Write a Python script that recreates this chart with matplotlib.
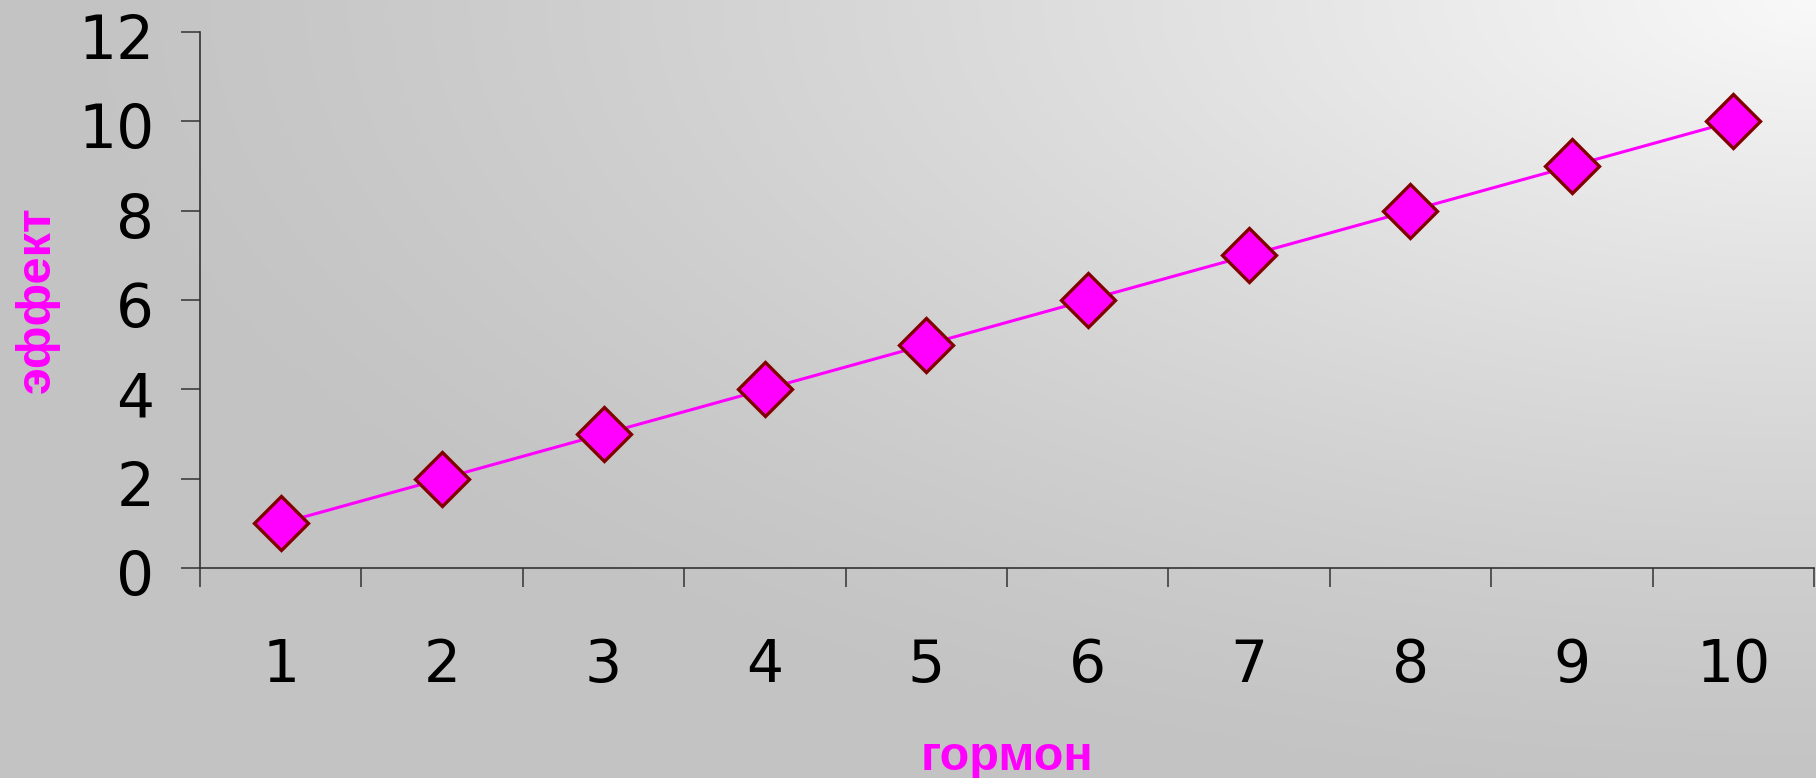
import numpy as np
import matplotlib
matplotlib.use("Agg")
import matplotlib.pyplot as plt
import matplotlib.transforms as mtransforms

# data
hormone = [1, 2, 3, 4, 5, 6, 7, 8, 9, 10]
effect = [1, 2, 3, 4, 5, 6, 7, 8, 9, 10]
y_ticks = [0, 2, 4, 6, 8, 10, 12]

W, H = 1816, 778
fig = plt.figure(figsize=(W / 100, H / 100), dpi=100)

# grey background, lightest in the top right corner
bg = fig.add_axes([0, 0, 1, 1], zorder=0)
yy, xx = np.mgrid[0:H, 0:W]
d = np.sqrt(((W - xx) / 1800.0) ** 2 + (yy / 820.0) ** 2)
v = 0xc3 + (0xf9 - 0xc3) * np.clip(1 - d, 0, 1) ** 1.3
v = v / 255.0
bg.imshow(np.dstack([v, v, v]), aspect="auto", extent=[0, 1, 0, 1])
bg.set_axis_off()

ax = fig.add_axes([200 / W, 210 / H, 1614 / W, 536 / H], zorder=1)
ax.set_facecolor("none")
ax.plot(hormone, effect, color="#ff00ff", lw=2.2,
        marker="D", ms=28, mfc="#ff00ff", mec="#800000", mew=2.4, clip_on=False)

ax.set_xlim(0.5, len(hormone) + 0.5)
ax.set_ylim(0, 12)
ax.set_yticks(y_ticks)
ax.set_xticks(hormone)
ax.set_xticks([h - 0.5 for h in hormone] + [hormone[-1] + 0.5], minor=True)

for s in ["top", "right"]:
    ax.spines[s].set_visible(False)
for s in ["left", "bottom"]:
    ax.spines[s].set_color("#333333")
    ax.spines[s].set_linewidth(1.2)

ax.tick_params(axis="y", direction="out", length=14, width=1.1, color="#333333",
               labelsize=43, pad=19)
ax.tick_params(axis="x", which="major", length=0, labelsize=42, pad=50)
ax.tick_params(axis="x", which="minor", direction="out", length=14, width=1.1,
               color="#333333")
shift = mtransforms.ScaledTranslation(0, -4 / 100, fig.dpi_scale_trans)
for lab in ax.get_yticklabels():
    lab.set_family("DejaVu Sans")
    lab.set_transform(lab.get_transform() + shift)
for lab in ax.get_xticklabels():
    lab.set_family("DejaVu Sans")

fig.text(37 / W, 1 - 300 / H, "эффект", rotation=90, ha="center", va="center",
         color="#ff00ff", fontsize=35, fontweight="bold", family="Liberation Sans")
fig.text(1007 / W, 8 / H, "гормон", ha="center", va="baseline",
         color="#ff00ff", fontsize=35, fontweight="bold", family="Liberation Sans")

fig.savefig("out.png", dpi=100)
